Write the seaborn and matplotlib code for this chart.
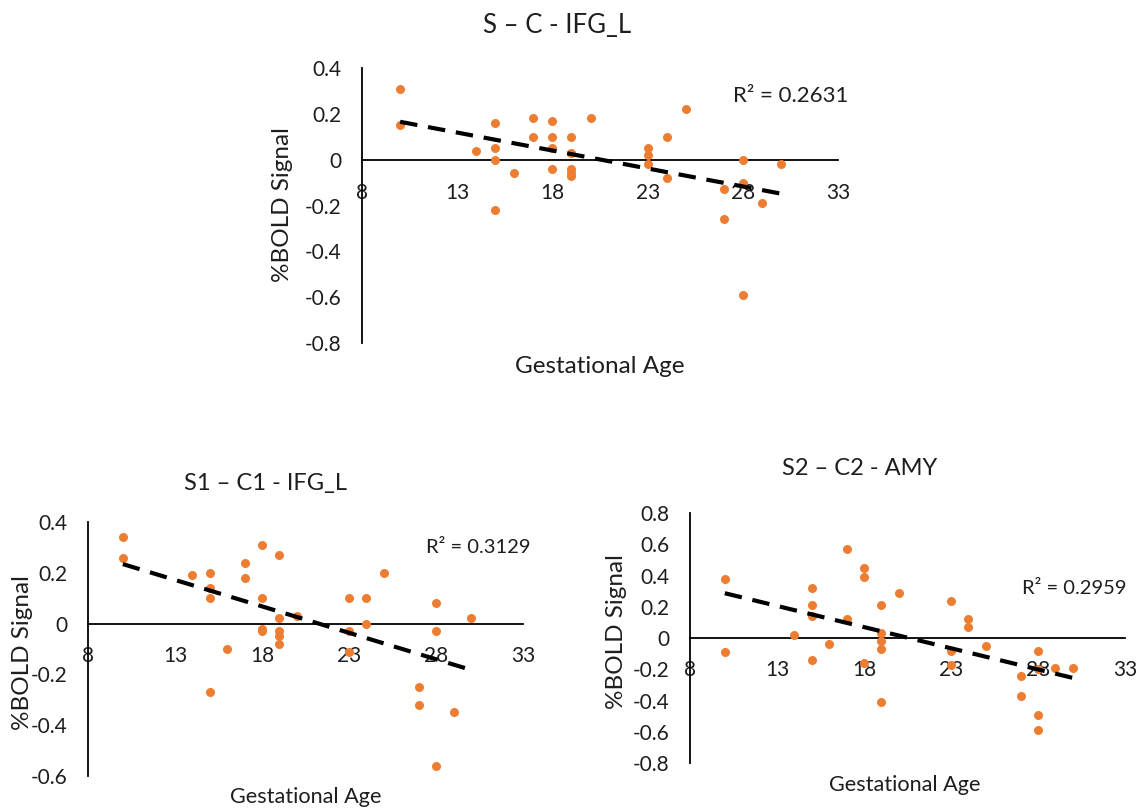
import numpy as np
import pandas as pd
import seaborn as sns
import matplotlib
matplotlib.use("Agg")
import matplotlib.pyplot as plt

# S - C - IFG_L
top_age = [10, 10, 14, 15, 15, 15, 15, 16, 17, 17, 18, 18, 18, 18, 19, 19, 19, 19, 19,
           20, 23, 23, 23, 24, 24, 25, 27, 27, 28, 28, 28, 29, 30]
top_bold = [0.31, 0.15, 0.04, 0.16, 0.05, 0.0, -0.22, -0.06, 0.18, 0.10, 0.17, 0.10, 0.05,
            -0.04, 0.10, 0.03, -0.04, -0.06, -0.07, 0.18, 0.05, 0.02, -0.02, 0.10, -0.08,
            0.22, -0.13, -0.26, 0.0, -0.10, -0.59, -0.19, -0.02]

# S1 - C1 - IFG_L
left_age = [10, 10, 14, 15, 15, 15, 15, 16, 17, 17, 18, 18, 18, 18, 19, 19, 19, 19, 19,
            20, 23, 23, 23, 24, 24, 25, 27, 27, 28, 28, 28, 29, 30]
left_bold = [0.34, 0.26, 0.19, 0.20, 0.14, 0.10, -0.27, -0.10, 0.24, 0.18, 0.31, 0.10,
             -0.02, -0.03, 0.27, 0.02, -0.03, -0.05, -0.08, 0.03, 0.10, -0.03, -0.11,
             0.10, 0.0, 0.20, -0.25, -0.32, 0.08, -0.03, -0.56, -0.35, 0.02]

# S2 - C2 - AMY
right_age = [10, 10, 14, 15, 15, 15, 15, 16, 17, 17, 18, 18, 18, 19, 19, 19, 19, 19, 20,
             23, 23, 23, 24, 24, 25, 27, 27, 28, 28, 28, 28, 29, 30]
right_bold = [0.38, -0.09, 0.02, 0.32, 0.21, 0.14, -0.14, -0.04, 0.57, 0.12, 0.45, 0.39,
              -0.16, 0.21, 0.03, -0.02, -0.07, -0.41, 0.29, 0.24, -0.08, -0.17, 0.12,
              0.07, -0.05, -0.24, -0.37, -0.08, -0.20, -0.49, -0.59, -0.19, -0.19]

panels = [
    ("S \u2013 C - IFG_L", top_age, top_bold, "R\u00b2 = 0.2631", (30.5, 0.28),
     [-0.8, -0.6, -0.4, -0.2, 0, 0.2, 0.4]),
    ("S1 \u2013 C1 - IFG_L", left_age, left_bold, "R\u00b2 = 0.3129", (30.4, 0.30),
     [-0.6, -0.4, -0.2, 0, 0.2, 0.4]),
    ("S2 \u2013 C2 - AMY", right_age, right_bold, "R\u00b2 = 0.2959", (30.1, 0.32),
     [-0.8, -0.6, -0.4, -0.2, 0, 0.2, 0.4, 0.6, 0.8]),
]

# axes boxes and text anchors in figure fractions
boxes = [[0.3187, 0.5765, 0.419, 0.3395],
         [0.0775, 0.042, 0.383, 0.3136],
         [0.6074, 0.058, 0.383, 0.3086]]
title_pos = [(0.490, 0.969), (0.234, 0.4037), (0.757, 0.4222)]
title_size = [18.5, 17, 17]
xlabel_pos = [(0.528, 0.548), (0.2694, 0.016), (0.7967, 0.0309)]
xlabel_size = [17.5, 15.6, 15.6]
ylabel_pos = [(0.249, 0.747), (0.0194, 0.194), (0.543, 0.22)]
r2_size = [16, 14.5, 14.5]

sns.set_style("white")
plt.rcParams["font.family"] = ["Lato", "DejaVu Sans"]
plt.rcParams["axes.unicode_minus"] = False

fig = plt.figure(figsize=(11.36, 8.10), dpi=100)
orange = "#ED7D31"
ink = "#1e1e1e"

for i, (title, age, bold, r2, r2_xy, yticks) in enumerate(panels):
    ax = fig.add_axes(boxes[i])
    df = pd.DataFrame({"age": age, "bold": bold})
    sns.regplot(data=df, x="age", y="bold", ax=ax, ci=None,
                scatter_kws=dict(color=orange, s=42, alpha=1, linewidths=0, zorder=3),
                line_kws=dict(color="black", lw=3, ls=(0, (4.2, 2.6)), zorder=4))
    # x axis crosses at zero, like the spreadsheet chart
    for s in ["top", "right"]:
        ax.spines[s].set_visible(False)
    ax.spines["bottom"].set_position(("data", 0))
    for s in ["left", "bottom"]:
        ax.spines[s].set_color("black")
        ax.spines[s].set_linewidth(1.3)

    ax.set_xlim(8, 33)
    ax.set_ylim(yticks[0], yticks[-1])
    ax.set_xticks([8, 13, 18, 23, 28, 33])
    ax.set_xticklabels(["8", "13", "18", "23", "28", "33"])
    ax.set_yticks(yticks)
    ax.set_yticklabels([f"{v:g}" for v in yticks])
    ax.tick_params(length=0, labelsize=15, colors=ink)
    ax.tick_params(axis="x", pad=16 if i else 17)
    ax.tick_params(axis="y", pad=15)
    ax.set_xlabel("")
    ax.set_ylabel("")
    ax.patch.set_alpha(0)
    ax.text(r2_xy[0], r2_xy[1], r2, fontsize=r2_size[i], ha="center", va="center",
            color=ink)

    fig.text(*title_pos[i], title, fontsize=title_size[i], ha="center", va="center",
             color=ink)
    fig.text(*xlabel_pos[i], "Gestational Age", fontsize=xlabel_size[i], ha="center",
             va="center", color=ink)
    fig.text(*ylabel_pos[i], "%BOLD Signal", fontsize=17.5, ha="center", va="center",
             rotation=90, color=ink)

fig.savefig("out.png", dpi=100)
